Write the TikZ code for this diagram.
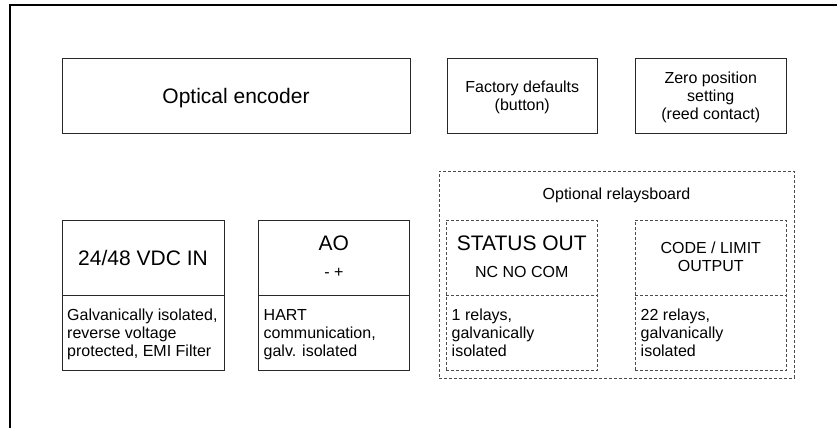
\documentclass[tikz,border=0pt]{standalone}
\usepackage{fontspec}
\setmainfont{Liberation Sans}
\newcommand\FBig{\fontsize{21}{24}\selectfont}
\newcommand\FSm{\fontsize{16}{18.4}\selectfont}
\definecolor{boxc}{RGB}{40,40,40}
\definecolor{dashc}{RGB}{75,75,75}
\tikzset{
  box/.style={draw=boxc, line width=1pt, inner sep=0pt, rectangle},
  dbox/.style={draw=dashc, line width=1pt, dash pattern=on 3pt off 2pt, inner sep=0pt, rectangle},
  area/.style={inner sep=0pt, rectangle},
  bigtxt/.style={inner sep=0pt, font=\FBig, anchor=base},
  smtxt/.style={inner sep=0pt, font=\FSm, anchor=base},
  ctxt/.style={inner sep=0pt, font=\FSm, align=center, anchor=north},
  ltxt/.style={inner sep=0pt, font=\FSm, align=left, anchor=north west},
  divider/.style={draw=boxc, line width=1pt},
  ddivider/.style={draw=dashc, line width=1pt, dash pattern=on 3pt off 2pt}
}
\begin{document}
\begin{tikzpicture}[x=1pt, y=-1pt]
\useasboundingbox (0,0) rectangle (837,428);
% outer frame (only left and top edges visible)
\coordinate (fbl) at (10,428);
\coordinate (ftl) at (10,5.5);
\coordinate (ftr) at (837,5.5);
\draw[line width=2pt, line join=miter] (fbl) -- (ftl) -- (ftr);

% top row
\node[box, minimum width=348pt, minimum height=75pt] (enc) at (236,95.8) {};
\node[bigtxt] (enct) at (236,103.3) {Optical encoder};

\node[box, minimum width=150.5pt, minimum height=75pt] (fac) at (522.25,95.8) {};
\node[ctxt] (fact) at (522.25,79.4) {Factory defaults\strut\\(button)\strut};

\node[box, minimum width=151.5pt, minimum height=75pt] (zero) at (710.75,95.8) {};
\node[ctxt] (zerot) at (710.75,70.1) {Zero position\strut\\setting\strut\\(reed contact)\strut};

% optional relays board
\node[dbox, minimum width=355pt, minimum height=207pt] (opt) at (616.5,274.5) {};
\node[smtxt] (optt) at (616.5,199.5) {Optional relaysboard};

% 24/48 VDC IN
\node[box, minimum width=162pt, minimum height=150pt] (vdc) at (143,295) {};
\node[area, minimum width=162pt, minimum height=75pt] (vdctop) at (143,257.5) {};
\draw[divider] (vdctop.south west) -- (vdctop.south east);
\node[bigtxt] (vdct) at (143,265) {24/48 VDC IN};
\node[ltxt] (vdcb) at (67,307.1) {Galvanically isolated,\strut\\reverse voltage\strut\\protected, EMI Filter\strut};

% AO
\node[box, minimum width=151.2pt, minimum height=150pt] (ao) at (333.9,295) {};
\node[area, minimum width=151.2pt, minimum height=75pt] (aotop) at (333.9,257.5) {};
\draw[divider] (aotop.south west) -- (aotop.south east);
\node[bigtxt] (aot) at (333.9,250.7) {AO};
\node[smtxt] (aos) at (333.9,277.5) {- +};
\node[ltxt] (aob) at (263.5,307.1) {HART\strut\\communication,\strut\\galv. isolated\strut};

% STATUS OUT
\node[dbox, minimum width=151.5pt, minimum height=150pt] (st) at (521.75,295) {};
\node[area, minimum width=151.5pt, minimum height=75pt] (sttop) at (521.75,257.5) {};
\draw[ddivider] (sttop.south west) -- (sttop.south east);
\node[bigtxt] (stt) at (521.75,250.7) {STATUS OUT};
\node[smtxt] (sts) at (521.75,277) {NC NO COM};
\node[ltxt] (stb) at (451.5,307.1) {1 relays,\strut\\galvanically\strut\\isolated\strut};

% CODE / LIMIT OUTPUT
\node[dbox, minimum width=151.5pt, minimum height=150pt] (code) at (710.75,295) {};
\node[area, minimum width=151.5pt, minimum height=75pt] (codetop) at (710.75,257.5) {};
\draw[ddivider] (codetop.south west) -- (codetop.south east);
\node[ctxt] (codet) at (710.75,240.5) {CODE / LIMIT\strut\\OUTPUT\strut};
\node[ltxt] (codeb) at (640.5,307.1) {22 relays,\strut\\galvanically\strut\\isolated\strut};
\end{tikzpicture}
\end{document}
